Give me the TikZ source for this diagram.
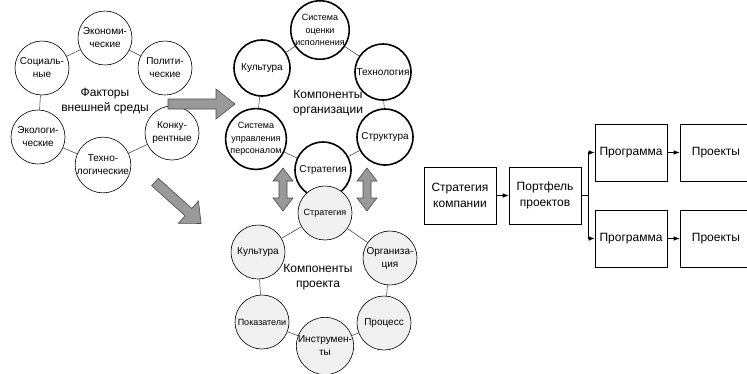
\documentclass[tikz,border=0pt]{standalone}
\usepackage{fontspec}
\setmainfont{Liberation Sans}
\usetikzlibrary{arrows.meta}

\tikzset{
  factor/.style={circle, draw, line width=0.6pt, minimum size=54pt, inner sep=0pt,
    align=center, font=\fontsize{10}{13}\selectfont},
  orgcomp/.style={factor, line width=1.6pt, fill=white, minimum size=56pt},
  projcomp/.style={factor, fill=gray!12},
  smalltext/.style={font=\fontsize{9}{12.5}\selectfont},
  ringlink/.style={line width=0.5pt, black!80},
  grouplabel/.style={align=center, font=\fontsize{12}{15}\selectfont},
  blockarrow/.style={fill=black!40, draw=black!70, line width=0.6pt},
  stagebox/.style={draw, line width=0.6pt, minimum width=72pt, minimum height=57pt,
    align=center, font=\fontsize{12}{16}\selectfont},
  flow/.style={line width=0.6pt, -{Latex[length=6pt,width=4.5pt]}}
}

\begin{document}
\begin{tikzpicture}[x=1pt,y=-1pt]
  \useasboundingbox (0,0) rectangle (747,373);

  % External factors
  \node[grouplabel] (extlabel) at (105,101) {Факторы\\внешней среды};
  \node[factor] (econ)  at (105,38)  {Экономи-\\ческие};
  \node[factor] (soc)   at (42,68)   {Социаль-\\ные};
  \node[factor] (polit) at (165,68)  {Полити-\\ческие};
  \node[factor] (ecol)  at (38,137)  {Экологи-\\ческие};
  \node[factor] (konk)  at (172,133) {Конку-\\рентные};
  \node[factor] (tekh)  at (103,165) {Техно-\\логические};
  \draw[ringlink] (soc) -- (econ);
  \draw[ringlink] (econ) -- (polit);
  \draw[ringlink] (soc) -- (ecol);
  \draw[ringlink] (ecol) -- (tekh);
  \draw[ringlink] (tekh) -- (konk);

  % Organization components
  \node[grouplabel] (orglabel) at (328,103) {Компоненты\\организации};
  \node[orgcomp, smalltext] (oeval) at (320,30)  {Система\\оценки\\исполнения};
  \node[orgcomp] (okult)  at (262,68)  {Культура};
  \node[orgcomp] (otech)  at (383,72)  {Технология};
  \node[orgcomp, smalltext] (ohr) at (256,139) {Система\\управления\\персоналом};
  \node[orgcomp] (ostruct) at (385,137) {Структура};
  \node[orgcomp] (ostrat) at (323,170) {Стратегия};
  \draw[ringlink] (okult) -- (oeval);
  \draw[ringlink] (oeval) -- (otech);
  \draw[ringlink] (okult) -- (ohr);
  \draw[ringlink] (otech) -- (ostruct);
  \draw[ringlink] (ohr) -- (ostrat);
  \draw[ringlink] (ostrat) -- (ostruct);

  % Project components
  \node[grouplabel] (projlabel) at (318,277) {Компоненты\\проекта};
  \node[projcomp, smalltext] (pstrat) at (325,213) {Стратегия};
  \node[projcomp] (pkult)  at (258,252) {Культура};
  \node[projcomp] (porg)   at (390,258) {Организа-\\ция};
  \node[projcomp, smalltext] (pind) at (262,322) {Показатели};
  \node[projcomp] (pproc)  at (384,323) {Процесс};
  \node[projcomp] (ptools) at (325,346) {Инструмен-\\ты};
  \draw[ringlink] (pstrat) -- (pkult);
  \draw[ringlink] (pstrat) -- (porg);
  \draw[ringlink] (pkult) -- (pind);
  \draw[ringlink] (porg) -- (pproc);
  \draw[ringlink] (pind) -- (ptools);
  \draw[ringlink] (ptools) -- (pproc);

  % Block arrows
  \draw[blockarrow] (168,99) -- (216,99) -- (216,89) -- (235,104) -- (216,119)
    -- (216,109) -- (168,109) -- cycle;
  \begin{scope}[shift={(155,182)}, rotate=-42]
    \draw[blockarrow] (0,-5) -- (45,-5) -- (45,-15) -- (62,0) -- (45,15) -- (45,5)
      -- (0,5) -- cycle;
  \end{scope}
  \foreach \cx in {283,367} {
    \draw[blockarrow] (\cx,168) -- (\cx+10,181) -- (\cx+4,181) -- (\cx+4,198)
      -- (\cx+10,198) -- (\cx,211) -- (\cx-10,198) -- (\cx-4,198) -- (\cx-4,181)
      -- (\cx-10,181) -- cycle;
  }

  % Strategy to projects
  \node[stagebox] (strat) at (460,195.5) {Стратегия\\компании};
  \node[stagebox] (portf) at (545,195.5) {Портфель\\проектов};
  \node[stagebox] (prog1) at (631,152.5) {Программа};
  \node[stagebox] (prog2) at (631,238.5) {Программа};
  \node[stagebox] (proj1) at (716,152.5) {Проекты};
  \node[stagebox] (proj2) at (716,238.5) {Проекты};
  \coordinate (split) at (588,195.5);
  \draw[flow] (strat) -- (portf);
  \draw[line width=0.6pt] (portf) -- (split);
  \draw[flow] (split) |- (prog1);
  \draw[flow] (split) |- (prog2);
  \draw[flow] (prog1) -- (proj1);
  \draw[flow] (prog2) -- (proj2);
\end{tikzpicture}
\end{document}
